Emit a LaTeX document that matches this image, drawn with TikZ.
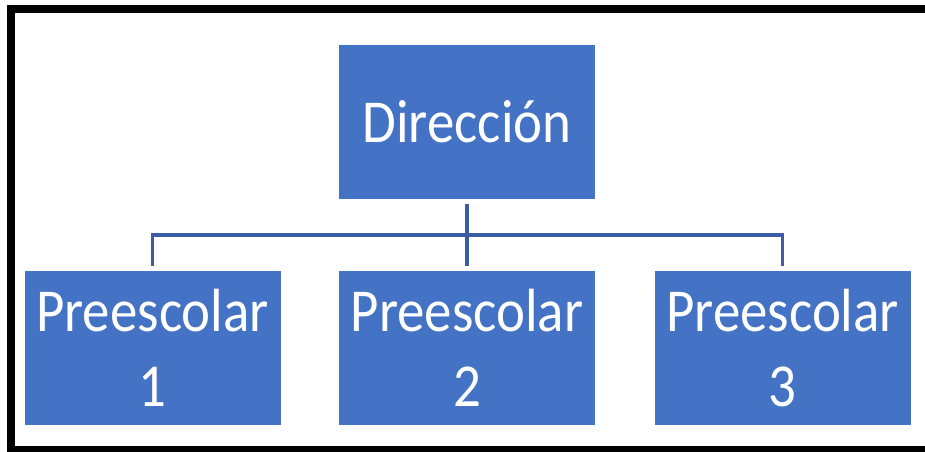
\documentclass[tikz,border=0pt]{standalone}
\usepackage{fontspec}
\setmainfont{Carlito}[FakeStretch=0.9]
\usetikzlibrary{positioning}

\definecolor{boxblue}{HTML}{4472C4}
\definecolor{lineblue}{HTML}{3A5DA4}

\tikzset{
  unit/.style={fill=boxblue, draw=white, line width=0.6pt, text=white,
    minimum width=257pt, minimum height=155pt, inner sep=0pt,
    align=center, font=\fontsize{61}{75}\selectfont},
  link/.style={draw=lineblue, line width=3.6pt}
}

\begin{document}
\begin{tikzpicture}[x=1pt, y=-1pt]
  % 1. Page frame
  \useasboundingbox (0,0) rectangle (925,451);
  \fill[white] (0,0) rectangle (925,451);
  \draw[line width=8pt] (11,9) rectangle (940,450);

  % 2. The boxes
  \node[unit] (dir) at (467,122) {Dirección};
  \node[unit, below=70pt of dir] (pre2) {Preescolar\\2};
  \node[unit, left=57pt of pre2] (pre1) {Preescolar\\1};
  \node[unit, right=58pt of pre2] (pre3) {Preescolar\\3};

  % 3. Connectors through the bus line
  \coordinate[below=35pt of dir] (bus);
  \draw[link] ([yshift=-4pt]dir.south) -- ([yshift=4pt]pre2.north);
  \draw[link] ([yshift=4pt]pre1.north) |- (bus) -| ([yshift=4pt]pre3.north);
\end{tikzpicture}
\end{document}
